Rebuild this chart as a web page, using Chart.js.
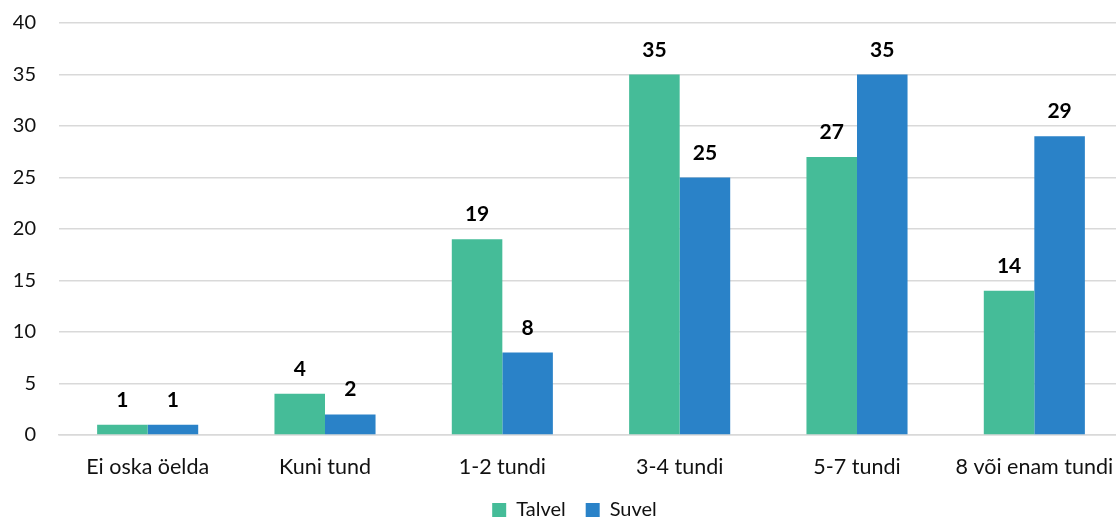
<!DOCTYPE html>
<html>
<head>
<meta charset="utf-8">
<script src="https://cdn.jsdelivr.net/npm/chart.js@4"></script>
<style>
html,body{margin:0;padding:0;overflow:hidden;background:#fff;}
#wrap{width:1124px;height:518px;}
</style>
</head>
<body>
<div id="wrap"><canvas id="c"></canvas></div>
<script>
const categories = ["Ei oska öelda", "Kuni tund", "1-2 tundi", "3-4 tundi", "5-7 tundi", "8 või enam tundi"];
const talvel = [1, 4, 19, 35, 27, 14];
const suvel = [1, 2, 8, 25, 35, 29];
const seriesNames = ["Talvel", "Suvel"];
const yTicks = [0, 5, 10, 15, 20, 25, 30, 35, 40];

const FONT = "Lato, 'Open Sans', sans-serif";

const valueLabels = {
  id: 'valueLabels',
  afterDatasetsDraw(chart) {
    const ctx = chart.ctx;
    ctx.save();
    ctx.font = "bold 21px " + FONT;
    ctx.fillStyle = "#000";
    ctx.textAlign = "center";
    ctx.textBaseline = "alphabetic";
    chart.data.datasets.forEach((ds, i) => {
      const meta = chart.getDatasetMeta(i);
      meta.data.forEach((bar, j) => {
        ctx.fillText(String(ds.data[j]), bar.x, bar.y - 18);
      });
    });
    ctx.restore();
  }
};

const legendShift = {
  id: 'legendShift',
  afterLayout(chart) {
    if (chart.legend) { chart.legend.left += 13; chart.legend.right += 13; }
  }
};

new Chart(document.getElementById('c'), {
  type: 'bar',
  data: {
    labels: categories,
    datasets: [
      { label: seriesNames[0], data: talvel, backgroundColor: '#45BC98', categoryPercentage: 0.57, barPercentage: 1 },
      { label: seriesNames[1], data: suvel, backgroundColor: '#2A82C8', categoryPercentage: 0.57, barPercentage: 1 }
    ]
  },
  options: {
    responsive: true,
    maintainAspectRatio: false,
    animation: false,
    layout: { padding: { top: 23, right: 1, left: 0, bottom: -12 } },
    plugins: {
      legend: {
        position: 'bottom',
        labels: {
          boxWidth: 14, boxHeight: 14, padding: 20,
          color: '#111',
          font: { family: FONT, size: 20 }
        }
      },
      tooltip: { enabled: false }
    },
    scales: {
      x: {
        grid: { display: false, drawTicks: false },
        border: { display: true, color: '#d9d9d9', width: 1.5 },
        ticks: { color: '#111', font: { family: FONT, size: 21.5 }, padding: 19, maxRotation: 0, autoSkip: false },
        afterFit(scale) { scale.height = 45; scale.paddingLeft = 0; scale.paddingRight = 0; }
      },
      y: {
        min: 0, max: 40,
        afterBuildTicks(scale) { scale.ticks = yTicks.map(v => ({ value: v })); },
        grid: { color: '#d9d9d9', lineWidth: 1.5, drawTicks: false },
        border: { display: false },
        ticks: { color: '#111', font: { family: FONT, size: 20 }, padding: 23 },
        afterFit(scale) { scale.width = 59; scale.paddingTop = 0; scale.paddingBottom = 0; }
      }
    }
  },
  plugins: [valueLabels, legendShift]
});
</script>
</body>
</html>
